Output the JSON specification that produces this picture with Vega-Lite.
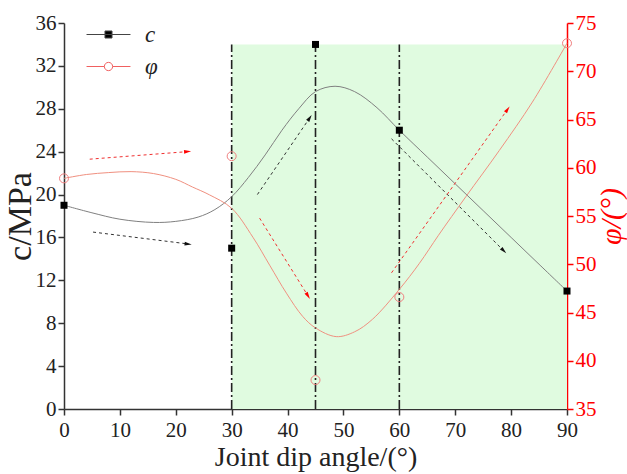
{
  "$schema": "https://vega.github.io/schema/vega-lite/v6.json",
  "width": 503,
  "height": 386,
  "autosize": "none",
  "padding": {"left": 64, "top": 23, "right": 60, "bottom": 65},
  "background": "white",
  "config": {
    "view": {"stroke": null},
    "font": "Liberation Serif",
    "legend": {"padding": 0}
  },
  "datasets": {
    "pts": [
      {"angle": 0, "c": 19.0, "phi": 58.9},
      {"angle": 30, "c": 15.0, "phi": 61.2},
      {"angle": 45, "c": 34.0, "phi": 38.0},
      {"angle": 60, "c": 26.0, "phi": 46.6},
      {"angle": 90, "c": 11.0, "phi": 72.9}
    ],
    "cCurve": [
      {"angle": 0, "c": 19.0}, {"angle": 5, "c": 18.3}, {"angle": 10, "c": 17.7},
      {"angle": 16, "c": 17.4}, {"angle": 20, "c": 17.5}, {"angle": 24, "c": 17.9},
      {"angle": 27, "c": 18.6}, {"angle": 30, "c": 19.8}, {"angle": 33, "c": 21.6},
      {"angle": 36, "c": 23.7}, {"angle": 39, "c": 26.0}, {"angle": 42, "c": 28.0},
      {"angle": 45, "c": 29.6}, {"angle": 48.5, "c": 30.1}, {"angle": 52, "c": 29.6},
      {"angle": 56, "c": 28.1}, {"angle": 60, "c": 26.0}, {"angle": 65, "c": 23.5},
      {"angle": 70, "c": 21.0}, {"angle": 75, "c": 18.5}, {"angle": 80, "c": 16.0},
      {"angle": 85, "c": 13.5}, {"angle": 90, "c": 11.0}
    ],
    "phiCurve": [
      {"angle": 0, "phi": 58.9}, {"angle": 4, "phi": 59.3}, {"angle": 8, "phi": 59.5},
      {"angle": 12, "phi": 59.6}, {"angle": 16, "phi": 59.4}, {"angle": 20, "phi": 58.8},
      {"angle": 23, "phi": 58.0}, {"angle": 26, "phi": 57.2}, {"angle": 30, "phi": 55.8},
      {"angle": 33.8, "phi": 52.8}, {"angle": 36.8, "phi": 49.9}, {"angle": 39.8, "phi": 47.0},
      {"angle": 42.7, "phi": 44.6}, {"angle": 45, "phi": 43.4}, {"angle": 48.7, "phi": 42.5},
      {"angle": 52, "phi": 43.0}, {"angle": 55.2, "phi": 44.3}, {"angle": 60, "phi": 47.4},
      {"angle": 63.6, "phi": 50.1}, {"angle": 67, "phi": 53.0}, {"angle": 71.9, "phi": 57.0},
      {"angle": 77.9, "phi": 61.8}, {"angle": 83.8, "phi": 66.8}, {"angle": 90, "phi": 72.9}
    ],
    "arrows": [
      {"x1": 5.2, "y1": 16.5, "x2": 22.1, "y2": 15.4, "kind": "k", "dir": 97},
      {"x1": 4.6, "y1": 23.3, "x2": 22.0, "y2": 24.0, "kind": "r", "dir": 86},
      {"x1": 34.6, "y1": 20.0, "x2": 43.9, "y2": 27.1, "kind": "k", "dir": 34},
      {"x1": 35.0, "y1": 17.8, "x2": 43.6, "y2": 10.6, "kind": "r", "dir": 148},
      {"x1": 58.6, "y1": 25.2, "x2": 78.6, "y2": 14.8, "kind": "k", "dir": 135},
      {"x1": 58.6, "y1": 12.7, "x2": 79.3, "y2": 27.9, "kind": "r", "dir": 35}
    ],
    "vlines": [{"angle": 30, "lo": 0, "hi": 34}, {"angle": 45, "lo": 0, "hi": 34}, {"angle": 60, "lo": 0, "hi": 34}],
    "zone": [{"from": 30, "to": 90, "lo": 0, "hi": 34}],
    "legendRows": [{"series": "c"}, {"series": "φ"}]
  },
  "layer": [
    {
      "layer": [
        {
          "data": {"name": "zone"},
          "mark": {"type": "rect", "fill": "#e0fbe0"},
          "encoding": {
            "x": {"field": "from", "type": "quantitative", "scale": {"domain": [0, 90], "nice": false},
              "axis": {
                "values": [0,5,10,15,20,25,30,35,40,45,50,55,60,65,70,75,80,85,90],
                "labelExpr": "datum.value % 10 === 0 ? datum.label : ''",
                "tickSize": {"condition": {"test": "datum.value % 10 === 0", "value": 6}, "value": 3},
                "title": "Joint dip angle/(°)",
                "grid": false,
                "domainColor": "#333", "tickColor": "#333", "domainWidth": 1.5, "tickWidth": 1.5,
                "labelFont": "Liberation Serif", "labelFontSize": 21, "labelColor": "#222", "labelPadding": 4,
                "labelFlush": false, "labelOverlap": false,
                "titleFont": "Liberation Serif", "titleFontSize": 28, "titleFontWeight": "normal", "titleColor": "#222", "titlePadding": 3
              }},
            "x2": {"field": "to"},
            "y": {"field": "lo", "type": "quantitative", "scale": {"domain": [0, 36], "nice": false, "zero": false},
              "axis": {
                "orient": "left",
                "values": [0,2,4,6,8,10,12,14,16,18,20,22,24,26,28,30,32,34,36],
                "labelExpr": "datum.value % 4 === 0 ? datum.label : ''",
                "tickSize": {"condition": {"test": "datum.value % 4 === 0", "value": 6}, "value": 3},
                "title": "c/MPa",
                "grid": false,
                "domainColor": "#333", "tickColor": "#333", "domainWidth": 1.5, "tickWidth": 1.5,
                "labelFont": "Liberation Serif", "labelFontSize": 21, "labelColor": "#222", "labelPadding": 2,
                "labelFlush": false, "labelOverlap": false,
                "titleFont": "Liberation Serif", "titleFontSize": 34, "titleFontWeight": "normal", "titleColor": "#222", "titlePadding": -2
              }},
            "y2": {"field": "hi"}
          }
        },
        {
          "data": {"name": "vlines"},
          "mark": {"type": "rule", "color": "#222", "strokeWidth": 1.6, "strokeDash": [9, 3, 2, 3]},
          "encoding": {
            "x": {"field": "angle", "type": "quantitative"},
            "y": {"field": "lo", "type": "quantitative"},
            "y2": {"field": "hi"}
          }
        },
        {
          "data": {"name": "cCurve"},
          "mark": {"type": "line", "color": "#808080", "strokeWidth": 1, "interpolate": "catmull-rom"},
          "encoding": {
            "x": {"field": "angle", "type": "quantitative"},
            "y": {"field": "c", "type": "quantitative"}
          }
        },
        {
          "data": {"name": "arrows"},
          "transform": [{"filter": "datum.kind === 'k'"}],
          "mark": {"type": "rule", "color": "#333", "strokeWidth": 1, "strokeDash": [3, 3]},
          "encoding": {
            "x": {"field": "x1", "type": "quantitative"},
            "y": {"field": "y1", "type": "quantitative"},
            "x2": {"field": "x2"},
            "y2": {"field": "y2"}
          }
        },
        {
          "data": {"name": "arrows"},
          "transform": [{"filter": "datum.kind === 'r'"}],
          "mark": {"type": "rule", "color": "#f03030", "strokeWidth": 1, "strokeDash": [3, 3]},
          "encoding": {
            "x": {"field": "x1", "type": "quantitative"},
            "y": {"field": "y1", "type": "quantitative"},
            "x2": {"field": "x2"},
            "y2": {"field": "y2"}
          }
        },
        {
          "data": {"name": "arrows"},
          "transform": [{"filter": "datum.kind === 'k'"}],
          "mark": {"type": "point", "shape": "M0,-1L0.45,0.7L-0.45,0.7Z", "filled": true, "color": "#111", "size": 70, "opacity": 1},
          "encoding": {
            "x": {"field": "x2", "type": "quantitative"},
            "y": {"field": "y2", "type": "quantitative"},
            "angle": {"field": "dir", "type": "quantitative", "scale": null}
          }
        },
        {
          "data": {"name": "arrows"},
          "transform": [{"filter": "datum.kind === 'r'"}],
          "mark": {"type": "point", "shape": "M0,-1L0.45,0.7L-0.45,0.7Z", "filled": true, "color": "#ff0000", "size": 70, "opacity": 1},
          "encoding": {
            "x": {"field": "x2", "type": "quantitative"},
            "y": {"field": "y2", "type": "quantitative"},
            "angle": {"field": "dir", "type": "quantitative", "scale": null}
          }
        },
        {
          "data": {"name": "pts"},
          "mark": {"type": "point", "shape": "square", "filled": true, "color": "#000", "size": 49, "opacity": 1},
          "encoding": {
            "x": {"field": "angle", "type": "quantitative"},
            "y": {"field": "c", "type": "quantitative"}
          }
        },
        {
          "data": {"name": "legendRows"},
          "transform": [{"filter": "datum.series === 'none'"}],
          "mark": {"type": "point", "opacity": 1, "strokeWidth": 1},
          "encoding": {
            "shape": {"field": "series", "type": "nominal",
              "scale": {"domain": ["c", "φ"], "range": [
                "M-2.44,0H2.44M-0.39,-0.39H0.39V0.39H-0.39Z",
                "M-2.44,0H-0.46M0.46,0H2.44M0.46,0A0.46,0.46 0 1,1 -0.46,0A0.46,0.46 0 1,1 0.46,0Z"
              ]},
              "legend": {
                "title": null, "orient": "none", "legendX": 33, "legendY": 0,
                "symbolSize": 324, "symbolStrokeWidth": 1,
                "labelFont": "Liberation Serif", "labelFontSize": 23, "labelFontStyle": "italic", "labelColor": "#222",
                "labelOffset": 25, "rowPadding": 8, "padding": 0
              }},
            "stroke": {"field": "series", "type": "nominal", "scale": {"domain": ["c", "φ"], "range": ["#444", "#f06060"]}},
            "fill": {"field": "series", "type": "nominal", "scale": {"domain": ["c", "φ"], "range": ["#000", "#fff"]}}
          }
        }
      ]
    },
    {
      "layer": [
        {
          "data": {"name": "phiCurve"},
          "mark": {"type": "line", "color": "#f09080", "strokeWidth": 1, "interpolate": "catmull-rom"},
          "encoding": {
            "x": {"field": "angle", "type": "quantitative", "scale": {"domain": [0, 90], "nice": false},
              "axis": {
                "values": [0,5,10,15,20,25,30,35,40,45,50,55,60,65,70,75,80,85,90],
                "labelExpr": "datum.value % 10 === 0 ? datum.label : ''",
                "tickSize": {"condition": {"test": "datum.value % 10 === 0", "value": 6}, "value": 3},
                "title": "Joint dip angle/(°)",
                "grid": false,
                "domainColor": "#333", "tickColor": "#333", "domainWidth": 1.5, "tickWidth": 1.5,
                "labelFont": "Liberation Serif", "labelFontSize": 21, "labelColor": "#222", "labelPadding": 4,
                "labelFlush": false, "labelOverlap": false,
                "titleFont": "Liberation Serif", "titleFontSize": 28, "titleFontWeight": "normal", "titleColor": "#222", "titlePadding": 3
              }},
            "y": {"field": "phi", "type": "quantitative", "scale": {"domain": [35, 75], "nice": false, "zero": false},
              "axis": {
                "orient": "right",
                "values": [35,37.5,40,42.5,45,47.5,50,52.5,55,57.5,60,62.5,65,67.5,70,72.5,75],
                "labelExpr": "datum.value % 5 === 0 ? datum.label : ''",
                "tickSize": {"condition": {"test": "datum.value % 5 === 0", "value": 6}, "value": 3},
                "title": "φ/(°)",
                "titleAngle": 270,
                "titleBaseline": "top",
                "grid": false,
                "domainColor": "#ff0000", "tickColor": "#ff0000", "domainWidth": 1.5, "tickWidth": 1.5,
                "labelFont": "Liberation Serif", "labelFontSize": 21, "labelColor": "#ff0000", "labelPadding": 2,
                "labelFlush": false, "labelOverlap": false,
                "titleFont": "Liberation Serif", "titleFontSize": 30, "titleFontWeight": "normal", "titleFontStyle": "italic", "titleColor": "#ff0000", "titlePadding": 0
              }}
          }
        },
        {
          "data": {"name": "pts"},
          "mark": {"type": "point", "shape": "circle", "filled": false, "color": "#f08080", "strokeWidth": 1, "size": 81, "opacity": 1},
          "encoding": {
            "x": {"field": "angle", "type": "quantitative"},
            "y": {"field": "phi", "type": "quantitative"}
          }
        }
      ]
    }
  ],
  "resolve": {"scale": {"y": "independent"}}
}
